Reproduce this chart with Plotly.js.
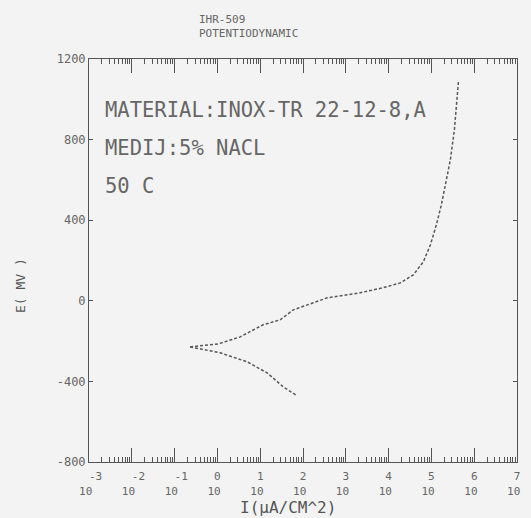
<!DOCTYPE html>
<html>
<head>
<meta charset="utf-8">
<script src="https://cdn.plot.ly/plotly-3.0.1.min.js"></script>
<style>html,body{margin:0;padding:0;background:#f3f3f3;}</style>
</head>
<body>
<div id="chart" style="width:531px;height:518px;"></div>
<script>
// Anodic branch: current density (uA/cm^2) and potential (mV)
const anodicI = [0.23, 1.04, 3.4, 11.7, 29.4, 59.2, 174, 369, 1084, 2183, 7534, 18840, 37930, 65010, 94840, 130900, 171400, 224400, 278000, 345100, 384600, 428500];
const anodicE = [-229, -214, -179, -119, -94, -45, -10, 15, 30, 40, 65, 89, 129, 194, 278, 378, 477, 601, 701, 850, 974, 1088];
// Cathodic branch
const cathodicI = [0.23, 1.16, 4.97, 14.6, 34.5, 73.3];
const cathodicE = [-229, -258, -303, -358, -427, -472];
// Axis ticks
const xTickExp = [-3, -2, -1, 0, 1, 2, 3, 4, 5, 6, 7];
const xTickText = xTickExp.map(e => (e < 0 ? '&nbsp;&nbsp;' + e : String(e)) + '<br>10&nbsp;');
const yTicks = [-800, -400, 0, 400, 800, 1200];
const headerLines = ["IHR-509", "POTENTIODYNAMIC"];
const infoLines = ["MATERIAL:INOX-TR 22-12-8,A", "MEDIJ:5% NACL", "50 C"];
const xTitle = 'I(µA/CM^2)';
const yTitle = 'E( MV )';

const ink = '#555555';
const lineStyle = {color: '#585858', width: 1.5, dash: '3px,2px'};

const traces = [
  {x: anodicI, y: anodicE, type: 'scatter', mode: 'lines', line: lineStyle, hoverinfo: 'skip', showlegend: false},
  {x: cathodicI, y: cathodicE, type: 'scatter', mode: 'lines', line: lineStyle, hoverinfo: 'skip', showlegend: false}
];

const annotations = [];
headerLines.forEach((t, i) => annotations.push({
  text: t, xref: 'paper', yref: 'paper', x: 0.252, y: 1.099 - i * 0.035,
  xanchor: 'left', yanchor: 'middle', showarrow: false,
  font: {family: 'DejaVu Sans Mono', size: 11, color: '#666'}
}));
infoLines.forEach((t, i) => annotations.push({
  text: t, xref: 'paper', yref: 'paper', x: 0.033, y: 0.873 - i * 0.094,
  xanchor: 'left', yanchor: 'middle', showarrow: false,
  font: {family: 'DejaVu Sans Mono', size: 20.5, color: '#666'}
}));
annotations.push({
  text: xTitle, xref: 'paper', yref: 'paper', x: (288 - 89) / 428, y: (462 - 507) / 403,
  xanchor: 'center', yanchor: 'middle', showarrow: false,
  font: {family: 'DejaVu Sans Mono', size: 16, color: ink}
});
annotations.push({
  text: yTitle, xref: 'paper', yref: 'paper', x: (20 - 89) / 428, y: (462 - 286) / 403,
  xanchor: 'center', yanchor: 'middle', showarrow: false, textangle: -90,
  font: {family: 'DejaVu Sans Mono', size: 13, color: ink}
});

const layout = {
  width: 531, height: 518,
  margin: {l: 89, r: 14, t: 59, b: 56},
  paper_bgcolor: '#f3f3f3', plot_bgcolor: '#f3f3f3',
  font: {family: 'DejaVu Sans Mono', color: ink, size: 12},
  xaxis: {
    type: 'log', range: [-3, 7],
    tickvals: xTickExp.map(e => Math.pow(10, e)), ticktext: xTickText,
    showgrid: false, zeroline: false,
    showline: true, linecolor: ink, linewidth: 1, mirror: 'allticks',
    ticks: 'inside', ticklen: 14, tickcolor: ink, tickwidth: 1,
    minor: {ticks: 'inside', ticklen: 5, tickcolor: ink, showgrid: false, dtick: 'D1'},
    ticklabelstandoff: 4,
    tickfont: {family: 'DejaVu Sans Mono', size: 11, color: '#666'}
  },
  yaxis: {
    range: [-800, 1200], tickvals: yTicks, ticktext: yTicks.map(String),
    showgrid: false, zeroline: false,
    showline: true, linecolor: ink, linewidth: 1, mirror: 'allticks',
    ticks: 'inside', ticklen: 4, tickcolor: ink,
    tickfont: {family: 'DejaVu Sans Mono', size: 12, color: '#666'}
  },
  annotations: annotations
};

Plotly.newPlot('chart', traces, layout, {staticPlot: true, displayModeBar: false});
</script>
</body>
</html>
